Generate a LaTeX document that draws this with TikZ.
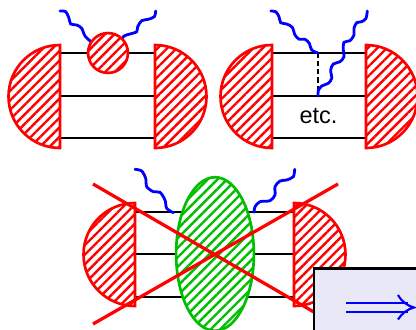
\documentclass[tikz,border=0pt]{standalone}
\usepackage{fontspec}
\setsansfont{Liberation Sans}
\usetikzlibrary{patterns.meta, shapes.geometric}
\tikzset{>=stealth}
\definecolor{hatchred}{RGB}{255,0,0}
\definecolor{hatchgreen}{RGB}{0,190,0}
\definecolor{boxfill}{RGB}{232,232,246}
\tikzset{
  blob/.style={draw=hatchred, line width=1.9pt, fill=white, line join=miter,
    postaction={pattern={Lines[angle=45,distance=4.8pt,line width=1.7pt]}, pattern color=hatchred}},
  greenblob/.style={draw=hatchgreen, line width=1.9pt, fill=white,
    postaction={pattern={Lines[angle=45,distance=4.8pt,line width=1.7pt]}, pattern color=hatchgreen}},
  quark/.style={line width=2pt, black},
  photon/.style={blue, line width=2pt, line cap=round},
  crossout/.style={hatchred, line width=2.3pt},
}
\begin{document}
\begin{tikzpicture}[x=0.025cm, y=0.025cm]
\useasboundingbox (0,0) rectangle (416,-330);
% top left
\foreach \y in {53,96,138} \draw[quark] (60,-\y) -- (155,-\y);
\draw[photon] plot[smooth] coordinates {(60,-11) (65.7,-11.7) (69,-18.3) (70.7,-24) (76.7,-25) (81.7,-28.3) (85,-36) (91.7,-42.3)};
\draw[photon] plot[smooth] coordinates {(155.7,-11) (154.3,-16.7) (148.3,-19.3) (141.7,-20.7) (137.7,-26.7) (136.7,-31.7) (130,-34) (124,-36) (120.7,-41.7)};
\node[circle, blob, minimum size=40*0.709pt, inner sep=0pt] (vertex) at (108,-53) {};
\draw[blob] (60,-45) arc (90:270:51.5) -- cycle;
\draw[blob] (155,-45) arc (90:-90:51.5) -- cycle;
% top right
\foreach \y in {53,96,138} \draw[quark] (272,-\y) -- (366,-\y);
\coordinate (upper) at (318,-53);
\coordinate (lower) at (318,-96);
\draw[quark, dash pattern=on 3.6pt off 2.2pt] (upper) -- (lower);
\draw[photon] plot[smooth] coordinates {(270.7,-11) (275.7,-11.7) (279,-16.7) (280.7,-22.7) (286.7,-24) (292.3,-27.3) (295,-35) (299.3,-39.3) (305,-39.3) (309.3,-43.3) (311.7,-50) (upper)};
\draw[photon] plot[smooth] coordinates {(367.3,-11) (366,-18.3) (361.7,-21.7) (356.7,-22.7) (354,-28.3) (354,-35) (350,-40.7) (344,-42.3) (343.3,-50) (344,-56.7) (340,-61.7) (333.3,-64) (330.7,-70) (331.7,-78.3) (328.3,-83.3) (321.7,-86) (318.3,-90.7) (lower)};
\node[font=\sffamily, scale=1.67] (etc) at (318.5,-116) {etc.};
\draw[blob] (272,-45) arc (90:270:51.5) -- cycle;
\draw[blob] (366,-45) arc (90:-90:51.5) -- cycle;
% bottom
\foreach \y in {212,254,297} \draw[quark] (135,-\y) -- (294,-\y);
\draw[photon] plot[smooth] coordinates {(135,-169.3) (141.7,-171) (145.7,-178.3) (146.7,-186.7) (153.3,-191.7) (160,-192.3) (165,-200) (166.7,-208.3) (173.3,-212.7)};
\draw[photon] plot[smooth] coordinates {(294.7,-169.3) (293.3,-176.7) (286.7,-180) (280,-181) (275,-186.7) (275,-195) (270,-200.7) (260,-201.7) (255,-206.7) (254,-212.3)};
\draw[blob] (135,-203) arc (90:270:51.5) -- cycle;
\draw[blob] (294,-203) arc (90:-90:51.5) -- cycle;
\node[ellipse, greenblob, minimum width=78*0.709pt, minimum height=154*0.709pt, inner sep=0pt] (gluon) at (215,-254) {};
\coordinate (crossA) at (93,-184);
\coordinate (crossB) at (338,-326);
\coordinate (crossC) at (93,-324);
\coordinate (crossD) at (338,-184);
\draw[crossout] (crossA) -- (crossB);
\draw[crossout] (crossC) -- (crossD);
% box with arrow
\node[draw=black, line width=2pt, fill=boxfill, anchor=north west, outer sep=0pt, minimum width=110*0.709pt, minimum height=70*0.709pt, inner sep=0pt] (implies) at (314,-268.5) {};
\coordinate (tailA) at (346,-302.7);
\coordinate (headA) at (408,-302.7);
\coordinate (tailB) at (346,-312);
\coordinate (headB) at (408,-312);
\draw[blue, line width=1.5pt] (tailA) -- (headA);
\draw[blue, line width=1.5pt] (tailB) -- (headB);
\draw[blue, line width=1.5pt] (398,-295) .. controls (402,-302) and (408,-306) .. (414,-307.5) .. controls (408,-309) and (402,-313) .. (398,-319.5);
\end{tikzpicture}
\end{document}
